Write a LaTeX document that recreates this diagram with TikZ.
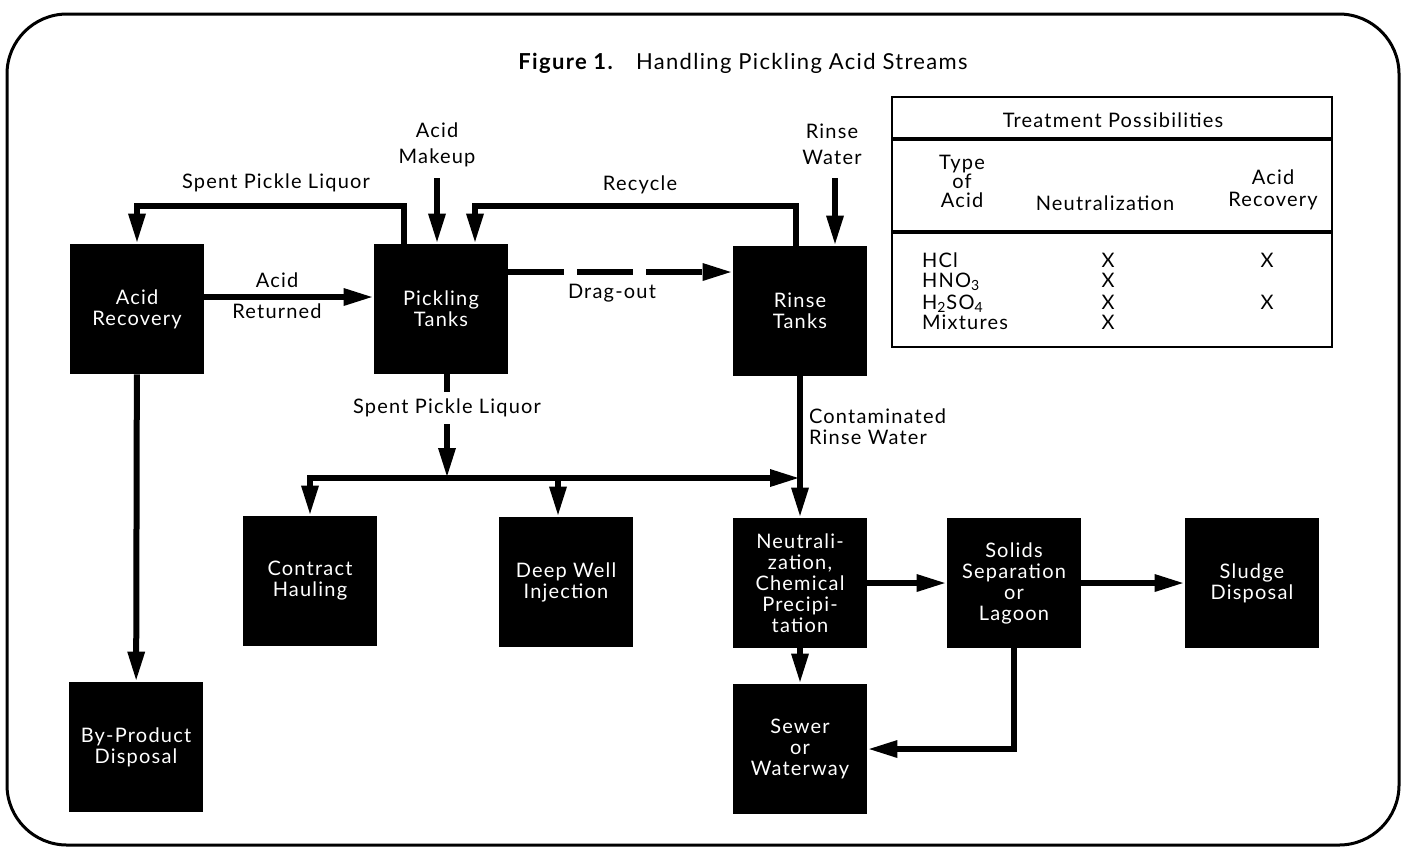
\documentclass[tikz,border=0pt]{standalone}
\usepackage{fontspec}
\setmainfont{Lato}[LetterSpace=6]
\usetikzlibrary{arrows.meta}

\begin{document}
\begin{tikzpicture}[x=0.5pt,y=-0.5pt,
    flow/.style={line width=3pt,-{Triangle[length=15pt,width=8pt]}},
    pipe/.style={line width=3pt},
    unit/.style={fill=black,text=white,minimum width=67pt,minimum height=65pt,
      inner sep=0pt,align=center,font=\fontsize{10}{10.5}\selectfont},
    lbl/.style={align=center,font=\fontsize{10}{12}\selectfont}]
  \useasboundingbox (0,0) rectangle (1406,848);
  \draw[line width=1.5pt,rounded corners=30pt] (7,14) rectangle (1399,845);
  \node[font=\fontsize{11}{13}\selectfont] (title) at (743,63)
    {\textbf{Figure 1.}\quad Handling Pickling Acid Streams};

  % process units
  \node[unit] (rec)    at (137,309) {Acid\\Recovery};
  \node[unit] (pick)   at (441,309) {Pickling\\Tanks};
  \node[unit] (rinse)  at (800,311) {Rinse\\Tanks};
  \node[unit] (haul)   at (310,581) {Contract\\Hauling};
  \node[unit] (well)   at (566,582) {Deep Well\\Injection};
  \node[unit] (neut)   at (800,583) {Neutrali-\\zation,\\Chemical\\Precipi-\\tation};
  \node[unit] (solid)  at (1014,583) {Solids\\Separation\\or\\Lagoon};
  \node[unit] (sludge) at (1252,583) {Sludge\\Disposal};
  \node[unit] (sewer)  at (800,749) {Sewer\\or\\Waterway};
  \node[unit] (byprod) at (136,747) {By-Product\\Disposal};

  % stream labels
  \node[lbl] (splA) at (276,183) {Spent Pickle Liquor};
  \node[lbl,font=\fontsize{10}{13}\selectfont] (mkup) at (437,145) {Acid\\Makeup};
  \node[lbl] (recy) at (640,185) {Recycle};
  \node[lbl,font=\fontsize{10}{13}\selectfont] (rwat) at (832,144) {Rinse\\Water};
  \node[lbl] (retA) at (277,280) {Acid};
  \node[lbl] (retB) at (277,311) {Returned};
  \node[lbl] (drag) at (612,293) {Drag-out};
  \node[lbl] (splB) at (447,408) {Spent Pickle Liquor};
  \node[lbl,anchor=west,align=left,font=\fontsize{10}{10.5}\selectfont] (cont)
    at (802,427) {Contaminated\\Rinse Water};

  \coordinate (mkin) at (437,178);
  \coordinate (rwin) at (835,178);
  \coordinate (bus) at (447,478);

  % streams
  \draw[flow] (mkin) -- (mkin |- pick.north);
  \draw[flow] (rwin) -- (rwin |- rinse.north);
  \draw[flow] (pick.north -| 404,0) |- (rec.north |- 0,206) -- (rec.north);
  \draw[flow] (rinse.north -| 796,0) |- (475,206) -- (475,0 |- pick.north);
  \draw[flow] (rec.east |- 0,297) -- (pick.west |- 0,297);
  \draw[flow,dash pattern=on 28pt off 6.5pt] (pick.east |- 0,272) -- (rinse.west |- 0,272);
  \draw[pipe] (pick.south -| splB) -- (splB.north);
  \draw[flow] (splB.south) -- (bus);
  \draw[flow] (bus) -| (haul.north);
  \draw[flow] (bus) -- (bus -| neut.north);
  \draw[flow] (558,0 |- bus) -- (558,0 |- well.north);
  \draw[flow] (rinse.south) -- (neut.north);
  \draw[flow] (neut) -- (solid);
  \draw[flow] (solid) -- (sludge);
  \draw[flow] (neut) -- (sewer);
  \draw[flow] (solid.south) |- (sewer.east);
  \draw[flow] (rec) -- (byprod);

  % treatment table
  \draw[line width=0.8pt] (892,97) rectangle (1332,347);
  \draw[line width=2pt] (892,139) -- (1332,139);
  \draw[line width=2pt] (892,232) -- (1332,232);
  \node[lbl] (thead) at (1113,120) {Treatment Possibilities};
  \node[lbl,font=\fontsize{10}{9.5}\selectfont] (ctype) at (962,181) {Type\\of\\Acid};
  \node[lbl] (cneut) at (1105,203) {Neutralization};
  \node[lbl,font=\fontsize{10}{11}\selectfont] (crec) at (1273,190) {Acid\\Recovery};
  \node[lbl,anchor=base west] (hcl) at (915,267) {HCl};
  \node[lbl,anchor=base west] (hno) at (915,287) {HNO\textsubscript{3}};
  \node[lbl,anchor=base west] (hso) at (915,309) {H\textsubscript{2}SO\textsubscript{4}};
  \node[lbl,anchor=base west] (mix) at (915,329) {Mixtures};
  \foreach \yy in {267,287,309,329}
    \node[lbl,anchor=base] at (1108,\yy) {X};
  \foreach \yy in {267,309}
    \node[lbl,anchor=base] at (1267,\yy) {X};
\end{tikzpicture}
\end{document}
